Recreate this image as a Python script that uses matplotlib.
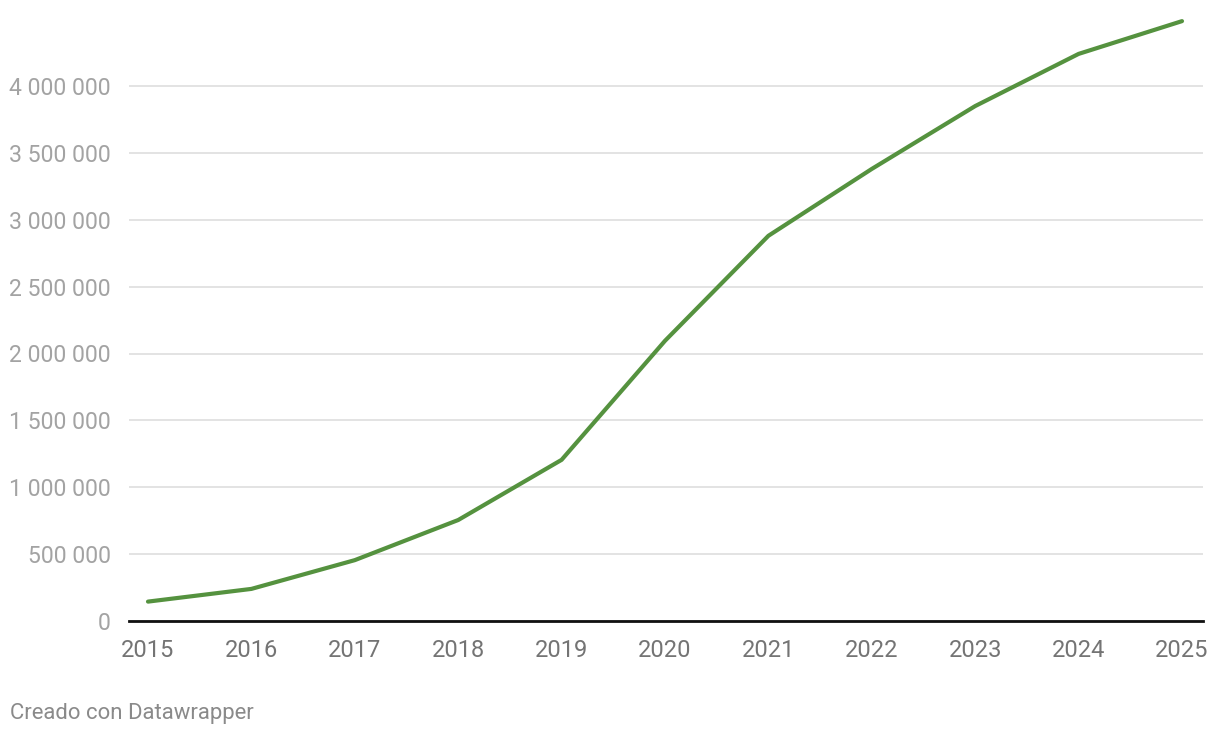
import matplotlib
matplotlib.use("Agg")
import matplotlib.pyplot as plt
from matplotlib.ticker import FuncFormatter

years = [2015, 2016, 2017, 2018, 2019, 2020, 2021, 2022, 2023, 2024, 2025]
values = [145000, 240000, 455000, 755000, 1205000, 2095000, 2880000,
          3380000, 3850000, 4240000, 4485000]
yticks = [0, 500000, 1000000, 1500000, 2000000, 2500000, 3000000, 3500000, 4000000]

plt.rcParams['font.family'] = ['Roboto', 'DejaVu Sans']

fig = plt.figure(figsize=(12.2, 7.38), dpi=100)
ax = fig.add_axes([129/1220, 1-621/738, (1203-129)/1220, (621-15)/738])

ax.plot(years, values, color='#55923f', lw=3.0, solid_capstyle='round',
        solid_joinstyle='round', zorder=3)

ax.set_xlim(2015 - 19/103.4, 2025 + 21/103.4)
ax.set_ylim(0, 606/133.75*1e6)
ax.set_xticks(years)
ax.set_yticks(yticks)
ax.yaxis.set_major_formatter(FuncFormatter(lambda v, p: f"{int(v):,}".replace(",", " ")))

for s in ['top', 'right', 'left']:
    ax.spines[s].set_visible(False)
ax.spines['bottom'].set_color('#111111')
ax.spines['bottom'].set_linewidth(2.0)
ax.spines['bottom'].set_zorder(4)

ax.grid(axis='y', color='#e3e3e3', lw=1.4)
ax.set_axisbelow(True)
ax.tick_params(axis='both', length=0)
ax.tick_params(axis='y', labelsize=16.6, labelcolor='#a3a3a3', pad=13)
ax.tick_params(axis='x', labelsize=17, labelcolor='#747474', pad=13)

fig.text(10/1220, 1-714/738, 'Creado con Datawrapper', fontsize=15.9,
         color='#8a8a8a', va='center', ha='left')

fig.savefig('out.png', dpi=100, facecolor='white')
